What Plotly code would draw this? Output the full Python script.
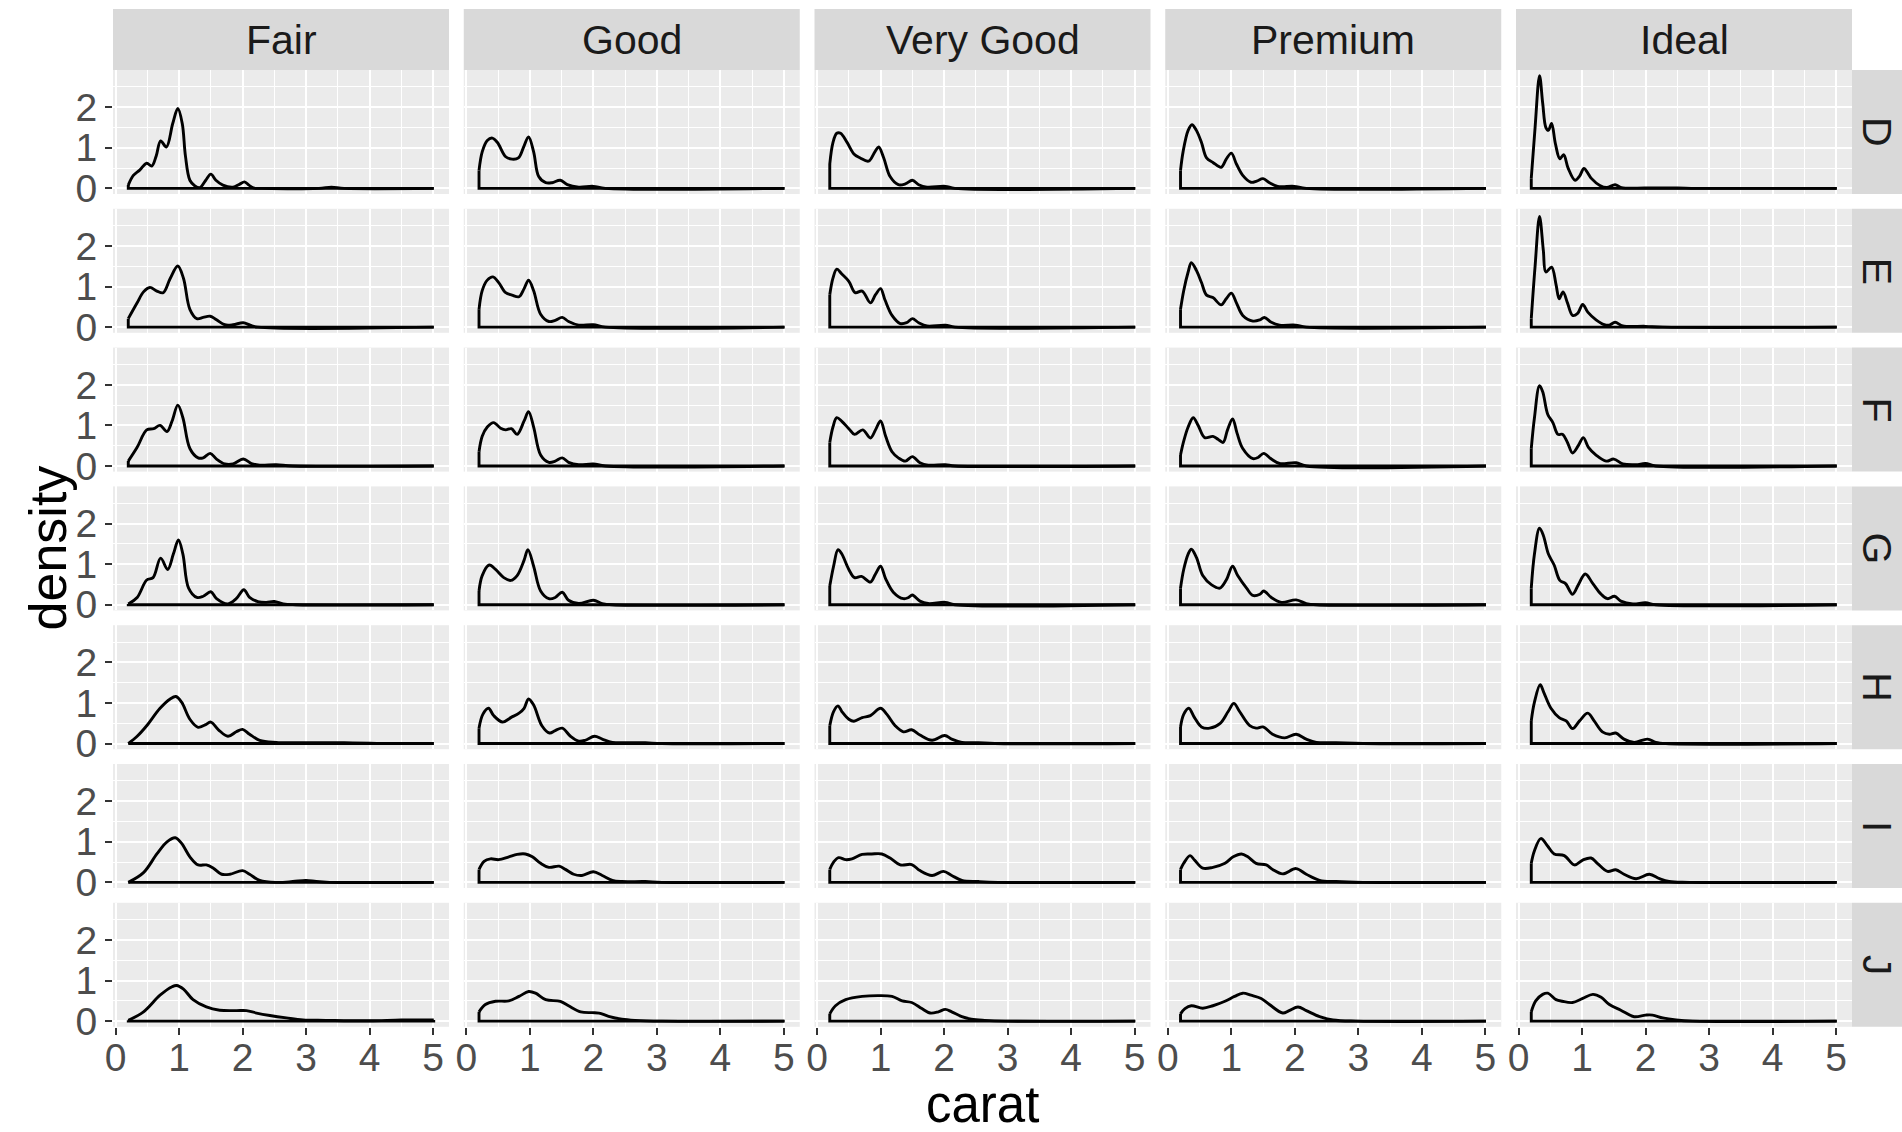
import plotly.graph_objects as go

# Facet categories and axis ticks
cuts = ["Fair", "Good", "Very Good", "Premium", "Ideal"]
colors = ["D", "E", "F", "G", "H", "I", "J"]
x_ticks = [0, 1, 2, 3, 4, 5]
y_ticks = [0, 1, 2]
carat_min, carat_max = 0.2, 5.01

# Kernel density estimates of carat, (carat, density) pairs per cut / color
fair_d = [(0.2, 0.08), (0.28, 0.32), (0.38, 0.45), (0.49, 0.62), (0.57, 0.55), (0.64, 0.8), (0.71, 1.17), (0.8, 1.02),
          (0.9, 1.6), (0.98, 1.97), (1.05, 1.6), (1.1, 0.8), (1.17, 0.2), (1.25, 0.06), (1.33, 0.02), (1.42, 0.2),
          (1.5, 0.35), (1.58, 0.2), (1.69, 0.08), (1.85, 0.03), (1.95, 0.1), (2.03, 0.16), (2.1, 0.08), (2.17, 0.01),
          (2.3, 0.0), (3.2, 0.0), (3.4, 0.03), (3.6, 0.0), (5.01, 0.0)]
fair_e = [(0.2, 0.21), (0.34, 0.6), (0.44, 0.87), (0.54, 0.98), (0.65, 0.89), (0.75, 0.85), (0.86, 1.2), (0.98, 1.51),
          (1.07, 1.2), (1.17, 0.44), (1.28, 0.21), (1.38, 0.24), (1.49, 0.27), (1.59, 0.18), (1.72, 0.06), (1.85, 0.06),
          (2.01, 0.11), (2.12, 0.05), (2.24, 0.0), (5.01, 0.0)]
fair_f = [(0.2, 0.12), (0.34, 0.46), (0.49, 0.89), (0.6, 0.92), (0.7, 1.0), (0.81, 0.85), (0.89, 1.11), (0.98, 1.5),
          (1.06, 1.19), (1.17, 0.43), (1.3, 0.2), (1.38, 0.2), (1.49, 0.31), (1.59, 0.17), (1.72, 0.05), (1.85, 0.05),
          (2.01, 0.17), (2.14, 0.06), (2.27, 0.02), (2.53, 0.03), (2.79, 0.0), (5.01, 0.0)]
fair_g = [(0.2, 0.02), (0.34, 0.18), (0.49, 0.61), (0.59, 0.67), (0.71, 1.15), (0.82, 0.87), (0.91, 1.25), (0.99, 1.6),
          (1.06, 1.25), (1.15, 0.41), (1.28, 0.18), (1.38, 0.21), (1.5, 0.32), (1.59, 0.15), (1.77, 0.02), (1.9, 0.15),
          (2.02, 0.37), (2.11, 0.18), (2.24, 0.08), (2.37, 0.06), (2.5, 0.08), (2.64, 0.02), (2.84, 0.0), (5.01, 0.0)]
fair_h = [(0.2, 0.0), (0.34, 0.18), (0.49, 0.44), (0.7, 0.87), (0.86, 1.1), (0.95, 1.16), (1.04, 1.02), (1.17, 0.6),
          (1.3, 0.4), (1.41, 0.46), (1.5, 0.53), (1.62, 0.34), (1.77, 0.18), (1.9, 0.29), (2.0, 0.35), (2.11, 0.23),
          (2.27, 0.08), (2.53, 0.03), (2.79, 0.02), (3.2, 0.02), (3.6, 0.02), (4.0, 0.01), (4.3, 0.0), (5.01, 0.0)]
fair_i = [(0.2, 0.0), (0.44, 0.24), (0.65, 0.7), (0.81, 1.0), (0.94, 1.1), (1.04, 0.96), (1.17, 0.63), (1.3, 0.43),
          (1.43, 0.43), (1.54, 0.35), (1.67, 0.2), (1.8, 0.2), (2.0, 0.29), (2.11, 0.2), (2.27, 0.05), (2.53, 0.0),
          (2.79, 0.02), (3.0, 0.05), (3.16, 0.02), (3.37, 0.0), (5.01, 0.0)]
fair_j = [(0.2, 0.02), (0.44, 0.23), (0.7, 0.64), (0.89, 0.85), (0.96, 0.88), (1.07, 0.79), (1.22, 0.53), (1.43, 0.35),
          (1.64, 0.27), (1.9, 0.26), (2.06, 0.26), (2.22, 0.2), (2.43, 0.14), (2.69, 0.08), (2.95, 0.03), (3.31, 0.02),
          (4.0, 0.01), (4.5, 0.03), (5.01, 0.03)]

good_d = [(0.2, 0.44), (0.25, 0.9), (0.33, 1.18), (0.41, 1.24), (0.49, 1.13), (0.62, 0.78), (0.72, 0.72), (0.82, 0.75),
          (0.91, 1.05), (0.98, 1.27), (1.06, 0.9), (1.14, 0.29), (1.25, 0.14), (1.35, 0.14), (1.48, 0.2), (1.59, 0.09),
          (1.77, 0.03), (2.0, 0.05), (2.19, 0.0), (5.01, 0.0)]
good_e = [(0.2, 0.44), (0.25, 0.9), (0.33, 1.16), (0.42, 1.24), (0.51, 1.1), (0.62, 0.85), (0.72, 0.79), (0.83, 0.75),
          (0.91, 0.95), (0.98, 1.16), (1.06, 0.9), (1.17, 0.32), (1.3, 0.14), (1.4, 0.17), (1.51, 0.24), (1.61, 0.14),
          (1.77, 0.05), (2.0, 0.06), (2.19, 0.0), (5.01, 0.0)]
good_f = [(0.2, 0.35), (0.25, 0.73), (0.33, 0.96), (0.43, 1.07), (0.54, 0.93), (0.62, 0.89), (0.71, 0.92), (0.8, 0.78),
          (0.91, 1.11), (0.98, 1.34), (1.06, 0.96), (1.17, 0.27), (1.3, 0.09), (1.4, 0.12), (1.51, 0.2), (1.61, 0.09),
          (1.77, 0.03), (2.0, 0.05), (2.19, 0.0), (5.01, 0.0)]
good_g = [(0.2, 0.34), (0.25, 0.72), (0.36, 0.98), (0.46, 0.87), (0.59, 0.67), (0.7, 0.6), (0.8, 0.72), (0.91, 1.1),
          (0.97, 1.36), (1.06, 0.95), (1.17, 0.34), (1.3, 0.15), (1.4, 0.18), (1.51, 0.31), (1.61, 0.11), (1.77, 0.03),
          (2.0, 0.11), (2.14, 0.03), (2.3, 0.0), (5.01, 0.0)]
good_h = [(0.2, 0.38), (0.26, 0.72), (0.35, 0.87), (0.43, 0.69), (0.57, 0.53), (0.7, 0.64), (0.83, 0.75), (0.91, 0.87),
          (0.98, 1.1), (1.06, 0.95), (1.19, 0.44), (1.31, 0.26), (1.4, 0.32), (1.51, 0.38), (1.64, 0.18), (1.77, 0.06),
          (1.87, 0.08), (2.02, 0.18), (2.14, 0.11), (2.3, 0.03), (2.55, 0.02), (2.82, 0.02), (3.08, 0.0), (5.01, 0.0)]
good_i = [(0.2, 0.32), (0.28, 0.52), (0.38, 0.58), (0.51, 0.56), (0.67, 0.63), (0.8, 0.69), (0.93, 0.7), (1.04, 0.63),
          (1.17, 0.47), (1.3, 0.37), (1.46, 0.4), (1.56, 0.32), (1.69, 0.2), (1.82, 0.17), (2.0, 0.26), (2.14, 0.17),
          (2.3, 0.05), (2.45, 0.02), (2.82, 0.02), (3.08, 0.0), (5.01, 0.0)]
good_j = [(0.2, 0.23), (0.3, 0.41), (0.46, 0.49), (0.67, 0.5), (0.83, 0.61), (0.98, 0.73), (1.09, 0.69), (1.25, 0.53),
          (1.48, 0.49), (1.61, 0.38), (1.8, 0.23), (1.98, 0.21), (2.09, 0.2), (2.24, 0.12), (2.45, 0.05), (2.66, 0.02),
          (3.08, 0.0), (5.01, 0.0)]

very_good_d = [(0.2, 0.6), (0.25, 1.13), (0.31, 1.36), (0.37, 1.36), (0.47, 1.14), (0.58, 0.85), (0.68, 0.75),
               (0.81, 0.67), (0.91, 0.9), (0.97, 1.02), (1.05, 0.75), (1.15, 0.29), (1.28, 0.09), (1.39, 0.11),
               (1.5, 0.2), (1.6, 0.09), (1.73, 0.03), (2.02, 0.05), (2.17, 0.0), (5.01, 0.0)]
very_good_e = [(0.2, 0.8), (0.25, 1.21), (0.31, 1.43), (0.39, 1.31), (0.5, 1.13), (0.6, 0.85), (0.71, 0.89),
               (0.84, 0.6), (0.92, 0.8), (1.0, 0.95), (1.07, 0.67), (1.18, 0.29), (1.31, 0.09), (1.41, 0.11),
               (1.5, 0.21), (1.6, 0.11), (1.73, 0.03), (2.02, 0.05), (2.17, 0.0), (5.01, 0.0)]
very_good_f = [(0.2, 0.58), (0.25, 0.96), (0.31, 1.19), (0.39, 1.1), (0.5, 0.92), (0.59, 0.78), (0.72, 0.89),
               (0.84, 0.69), (0.92, 0.89), (1.0, 1.11), (1.08, 0.73), (1.18, 0.35), (1.28, 0.2), (1.39, 0.12),
               (1.5, 0.23), (1.62, 0.08), (1.75, 0.02), (2.02, 0.03), (2.17, 0.0), (5.01, 0.0)]
very_good_g = [(0.2, 0.46), (0.26, 0.95), (0.33, 1.36), (0.39, 1.25), (0.5, 0.87), (0.59, 0.67), (0.7, 0.7),
               (0.84, 0.56), (0.92, 0.76), (1.0, 0.95), (1.08, 0.64), (1.2, 0.31), (1.36, 0.15), (1.44, 0.18),
               (1.5, 0.24), (1.62, 0.09), (1.75, 0.03), (2.02, 0.06), (2.17, 0.0), (5.01, 0.0)]
very_good_h = [(0.2, 0.44), (0.26, 0.79), (0.33, 0.93), (0.39, 0.79), (0.5, 0.6), (0.58, 0.55), (0.71, 0.64),
               (0.84, 0.69), (1.0, 0.87), (1.1, 0.72), (1.23, 0.44), (1.36, 0.29), (1.49, 0.34), (1.62, 0.21),
               (1.81, 0.08), (2.01, 0.2), (2.12, 0.11), (2.28, 0.03), (2.54, 0.02), (2.8, 0.0), (5.01, 0.0)]
very_good_i = [(0.2, 0.32), (0.26, 0.5), (0.34, 0.61), (0.45, 0.56), (0.55, 0.58), (0.71, 0.69), (0.86, 0.7),
               (1.02, 0.7), (1.15, 0.6), (1.31, 0.43), (1.49, 0.44), (1.62, 0.29), (1.81, 0.17), (1.99, 0.27),
               (2.12, 0.17), (2.28, 0.05), (2.54, 0.02), (2.85, 0.0), (5.01, 0.0)]
very_good_j = [(0.2, 0.18), (0.29, 0.38), (0.45, 0.53), (0.71, 0.61), (0.97, 0.63), (1.18, 0.61), (1.34, 0.5),
               (1.49, 0.46), (1.65, 0.31), (1.78, 0.2), (1.91, 0.23), (2.02, 0.29), (2.12, 0.23), (2.28, 0.11),
               (2.43, 0.05), (2.64, 0.02), (2.96, 0.0), (5.01, 0.0)]

premium_d = [(0.2, 0.44), (0.24, 0.9), (0.32, 1.43), (0.38, 1.57), (0.45, 1.43), (0.53, 1.13), (0.61, 0.75),
             (0.71, 0.64), (0.84, 0.52), (0.92, 0.72), (1.0, 0.87), (1.08, 0.6), (1.18, 0.32), (1.31, 0.15),
             (1.4, 0.18), (1.5, 0.24), (1.6, 0.14), (1.73, 0.05), (1.99, 0.05), (2.18, 0.0), (5.01, 0.0)]
premium_e = [(0.2, 0.44), (0.25, 0.9), (0.32, 1.36), (0.37, 1.59), (0.45, 1.4), (0.53, 1.1), (0.61, 0.79),
             (0.71, 0.73), (0.84, 0.55), (0.92, 0.7), (1.0, 0.84), (1.08, 0.6), (1.18, 0.29), (1.34, 0.15),
             (1.45, 0.18), (1.52, 0.24), (1.63, 0.12), (1.76, 0.05), (2.01, 0.05), (2.18, 0.0), (5.01, 0.0)]
premium_f = [(0.2, 0.27), (0.25, 0.61), (0.32, 0.96), (0.4, 1.19), (0.48, 0.99), (0.58, 0.7), (0.71, 0.73),
             (0.79, 0.66), (0.87, 0.58), (0.94, 0.89), (1.02, 1.16), (1.09, 0.81), (1.18, 0.43), (1.34, 0.18),
             (1.42, 0.21), (1.51, 0.31), (1.63, 0.17), (1.76, 0.06), (2.02, 0.08), (2.18, 0.0), (5.01, 0.0)]
premium_g = [(0.2, 0.41), (0.25, 0.87), (0.32, 1.25), (0.37, 1.37), (0.45, 1.17), (0.55, 0.72), (0.69, 0.49),
             (0.82, 0.41), (0.92, 0.61), (1.02, 0.95), (1.1, 0.72), (1.24, 0.41), (1.34, 0.23), (1.45, 0.26),
             (1.51, 0.34), (1.63, 0.18), (1.79, 0.06), (2.02, 0.12), (2.18, 0.03), (2.34, 0.0), (5.01, 0.0)]
premium_h = [(0.2, 0.41), (0.25, 0.72), (0.33, 0.87), (0.42, 0.64), (0.53, 0.41), (0.66, 0.38), (0.82, 0.49),
             (0.95, 0.79), (1.04, 0.99), (1.13, 0.79), (1.29, 0.44), (1.39, 0.38), (1.5, 0.41), (1.65, 0.23),
             (1.84, 0.14), (2.02, 0.23), (2.18, 0.11), (2.34, 0.03), (2.65, 0.02), (3.07, 0.0), (5.01, 0.0)]
premium_i = [(0.2, 0.32), (0.25, 0.47), (0.35, 0.66), (0.42, 0.55), (0.55, 0.35), (0.71, 0.37), (0.9, 0.47),
             (1.03, 0.63), (1.16, 0.7), (1.26, 0.63), (1.39, 0.47), (1.55, 0.43), (1.65, 0.32), (1.81, 0.21),
             (2.02, 0.34), (2.18, 0.2), (2.39, 0.05), (2.65, 0.02), (3.07, 0.0), (5.01, 0.0)]
premium_j = [(0.2, 0.18), (0.27, 0.31), (0.37, 0.38), (0.55, 0.32), (0.71, 0.38), (0.9, 0.49), (1.05, 0.61),
             (1.18, 0.69), (1.31, 0.64), (1.47, 0.56), (1.6, 0.41), (1.81, 0.2), (1.91, 0.26), (2.05, 0.35),
             (2.18, 0.26), (2.39, 0.11), (2.6, 0.03), (2.96, 0.0), (5.01, 0.0)]

ideal_d = [(0.2, 0.25), (0.26, 1.5), (0.33, 2.78), (0.38, 2.1), (0.43, 1.5), (0.47, 1.43), (0.52, 1.6), (0.58, 1.1),
           (0.65, 0.73), (0.71, 0.83), (0.78, 0.5), (0.89, 0.2), (0.96, 0.3), (1.03, 0.49), (1.1, 0.35), (1.15, 0.24),
           (1.28, 0.07), (1.39, 0.02), (1.52, 0.09), (1.62, 0.02), (2.0, 0.01), (2.5, 0.01), (2.8, 0.0), (5.01, 0.0)]
ideal_e = [(0.2, 0.21), (0.26, 1.5), (0.33, 2.73), (0.39, 1.89), (0.43, 1.36), (0.52, 1.48), (0.59, 1.05), (0.64, 0.7),
           (0.7, 0.87), (0.77, 0.6), (0.85, 0.29), (0.93, 0.34), (1.01, 0.56), (1.09, 0.37), (1.22, 0.18),
           (1.35, 0.06), (1.43, 0.05), (1.52, 0.12), (1.64, 0.03), (2.0, 0.02), (2.27, 0.0), (5.01, 0.0)]
ideal_f = [(0.2, 0.43), (0.25, 1.19), (0.33, 1.98), (0.38, 1.83), (0.46, 1.27), (0.54, 1.07), (0.62, 0.78),
           (0.69, 0.78), (0.77, 0.58), (0.85, 0.32), (0.94, 0.5), (1.02, 0.7), (1.1, 0.46), (1.22, 0.27), (1.38, 0.12),
           (1.5, 0.17), (1.64, 0.05), (1.85, 0.03), (2.0, 0.06), (2.16, 0.0), (5.01, 0.0)]
ideal_g = [(0.2, 0.41), (0.25, 1.25), (0.33, 1.89), (0.39, 1.71), (0.47, 1.25), (0.56, 0.98), (0.65, 0.6),
           (0.74, 0.52), (0.85, 0.26), (0.94, 0.49), (1.05, 0.76), (1.17, 0.52), (1.3, 0.26), (1.4, 0.15), (1.51, 0.21),
           (1.61, 0.09), (1.8, 0.02), (2.0, 0.05), (2.16, 0.0), (5.01, 0.0)]
ideal_h = [(0.2, 0.56), (0.25, 1.02), (0.34, 1.45), (0.4, 1.25), (0.51, 0.87), (0.64, 0.64), (0.75, 0.56), (0.85, 0.37),
           (0.96, 0.56), (1.09, 0.75), (1.19, 0.56), (1.32, 0.29), (1.43, 0.23), (1.53, 0.26), (1.66, 0.11),
           (1.82, 0.03), (2.03, 0.11), (2.16, 0.03), (2.32, 0.0), (5.01, 0.0)]
ideal_i = [(0.2, 0.47), (0.25, 0.78), (0.35, 1.08), (0.46, 0.89), (0.56, 0.7), (0.72, 0.66), (0.88, 0.43), (1.01, 0.55),
           (1.14, 0.6), (1.24, 0.47), (1.4, 0.27), (1.53, 0.31), (1.66, 0.2), (1.85, 0.09), (2.06, 0.2), (2.22, 0.09),
           (2.37, 0.02), (2.69, 0.0), (5.01, 0.0)]
ideal_j = [(0.2, 0.23), (0.27, 0.5), (0.38, 0.66), (0.46, 0.69), (0.59, 0.53), (0.69, 0.49), (0.85, 0.46), (1.01, 0.56),
           (1.17, 0.66), (1.3, 0.59), (1.43, 0.41), (1.61, 0.27), (1.82, 0.11), (2.0, 0.15), (2.11, 0.15), (2.27, 0.08),
           (2.48, 0.03), (2.74, 0.0), (5.01, 0.0)]

curves = {
    "Fair": [fair_d, fair_e, fair_f, fair_g, fair_h, fair_i, fair_j],
    "Good": [good_d, good_e, good_f, good_g, good_h, good_i, good_j],
    "Very Good": [very_good_d, very_good_e, very_good_f, very_good_g, very_good_h, very_good_i, very_good_j],
    "Premium": [premium_d, premium_e, premium_f, premium_g, premium_h, premium_i, premium_j],
    "Ideal": [ideal_d, ideal_e, ideal_f, ideal_g, ideal_h, ideal_i, ideal_j],
}

# ---- page geometry (pixels) ----
W, H = 1902, 1132
LEFT0, COL_STEP, PW = 113, 350.75, 336
TOP0, ROW_STEP, PH = 70, 138.8, 124
STRIP_TOP = 9
RSTRIP_X0 = 1852

FONT = "Liberation Sans, Arial, Helvetica, sans-serif"
PANEL_BG = "#EBEBEB"
STRIP_BG = "#D9D9D9"
LINE_W = 2.9

# shared scales with 5% expansion, like ggplot
ymax = max(d for cut in cuts for pts in curves[cut] for _, d in pts)
span = carat_max - carat_min
x_range = [carat_min - 0.05 * span, carat_max + 0.05 * span]
y_range = [-0.05 * ymax, 1.05 * ymax]

fig = go.Figure()
layout_axes = {}
shapes = []
annotations = []

for r, col in enumerate(colors):
    for c, cut in enumerate(cuts):
        idx = r * len(cuts) + c + 1
        xname = "x" if idx == 1 else f"x{idx}"
        yname = "y" if idx == 1 else f"y{idx}"
        pts = curves[cut][r]
        xs = [p[0] for p in pts]
        ys = [p[1] for p in pts]

        # density outline
        fig.add_trace(go.Scatter(
            x=xs, y=ys, mode="lines", xaxis=xname, yaxis=yname,
            line=dict(color="black", width=LINE_W, shape="spline", smoothing=1.0),
            hoverinfo="skip", showlegend=False))
        # closing edges of the density polygon (ends + baseline)
        fig.add_trace(go.Scatter(
            x=[xs[-1], xs[-1], xs[0], xs[0]], y=[ys[-1], 0, 0, ys[0]],
            mode="lines", xaxis=xname, yaxis=yname,
            line=dict(color="black", width=LINE_W),
            hoverinfo="skip", showlegend=False))

        left = LEFT0 + c * COL_STEP
        top = TOP0 + r * ROW_STEP
        xdom = [left / W, (left + PW) / W]
        ydom = [1 - (top + PH) / H, 1 - top / H]
        bottom_row = r == len(colors) - 1
        left_col = c == 0

        layout_axes["xaxis" if idx == 1 else f"xaxis{idx}"] = dict(
            domain=xdom, range=x_range, anchor=yname, automargin=False,
            tickmode="array", tickvals=x_ticks, ticktext=[str(t) for t in x_ticks],
            showticklabels=bottom_row, ticks="outside" if bottom_row else "",
            ticklen=7, tickwidth=2, tickcolor="#333333", ticklabelstandoff=-11,
            tickfont=dict(family=FONT, size=39, color="#4D4D4D"),
            showgrid=True, gridcolor="white", gridwidth=2.4, zeroline=False,
            minor=dict(tickmode="array", tickvals=[0.5, 1.5, 2.5, 3.5, 4.5],
                       showgrid=True, gridcolor="white", gridwidth=1.2),
            showline=False, fixedrange=True)
        layout_axes["yaxis" if idx == 1 else f"yaxis{idx}"] = dict(
            domain=ydom, range=y_range, anchor=xname, automargin=False,
            tickmode="array", tickvals=y_ticks, ticktext=[str(t) for t in y_ticks],
            showticklabels=left_col, ticks="outside" if left_col else "",
            ticklen=7, tickwidth=2, tickcolor="#333333",
            tickfont=dict(family=FONT, size=39, color="#4D4D4D"),
            showgrid=True, gridcolor="white", gridwidth=2.4, zeroline=False,
            minor=dict(tickmode="array", tickvals=[0.5, 1.5, 2.5],
                       showgrid=True, gridcolor="white", gridwidth=1.2),
            showline=False, fixedrange=True)

# column strips (cut)
for c, cut in enumerate(cuts):
    left = LEFT0 + c * COL_STEP
    shapes.append(dict(type="rect", xref="paper", yref="paper", layer="below",
                       x0=left / W, x1=(left + PW) / W, y0=1 - TOP0 / H, y1=1 - STRIP_TOP / H,
                       fillcolor=STRIP_BG, line=dict(width=0)))
    annotations.append(dict(text=cut, xref="paper", yref="paper",
                            x=(left + PW / 2) / W, y=1 - (STRIP_TOP + TOP0) / 2 / H,
                            xanchor="center", yanchor="middle", showarrow=False,
                            font=dict(family=FONT, size=41, color="#1A1A1A")))

# row strips (color)
for r, col in enumerate(colors):
    top = TOP0 + r * ROW_STEP
    shapes.append(dict(type="rect", xref="paper", yref="paper", layer="below",
                       x0=RSTRIP_X0 / W, x1=1.0, y0=1 - (top + PH) / H, y1=1 - top / H,
                       fillcolor=STRIP_BG, line=dict(width=0)))
    annotations.append(dict(text=col, xref="paper", yref="paper",
                            x=1877 / W, y=1 - (top + PH / 2) / H, textangle=90,
                            xanchor="center", yanchor="middle", showarrow=False,
                            font=dict(family=FONT, size=41, color="#1A1A1A")))

# axis titles
annotations.append(dict(text="carat", xref="paper", yref="paper",
                        x=(LEFT0 + (4 * COL_STEP + PW) / 2) / W, y=1 - 1104 / H,
                        xanchor="center", yanchor="middle", showarrow=False,
                        font=dict(family=FONT, size=51, color="black")))
annotations.append(dict(text="density", xref="paper", yref="paper",
                        x=48 / W, y=1 - (TOP0 + 6 * ROW_STEP + PH + TOP0) / 2 / H, textangle=-90,
                        xanchor="center", yanchor="middle", showarrow=False,
                        font=dict(family=FONT, size=52, color="black")))

fig.update_layout(
    width=W, height=H,
    margin=dict(l=0, r=0, t=0, b=0),
    paper_bgcolor="white", plot_bgcolor=PANEL_BG,
    showlegend=False, hovermode=False,
    shapes=shapes, annotations=annotations,
    **layout_axes)

fig.write_html("out.html", config={"displayModeBar": False})
